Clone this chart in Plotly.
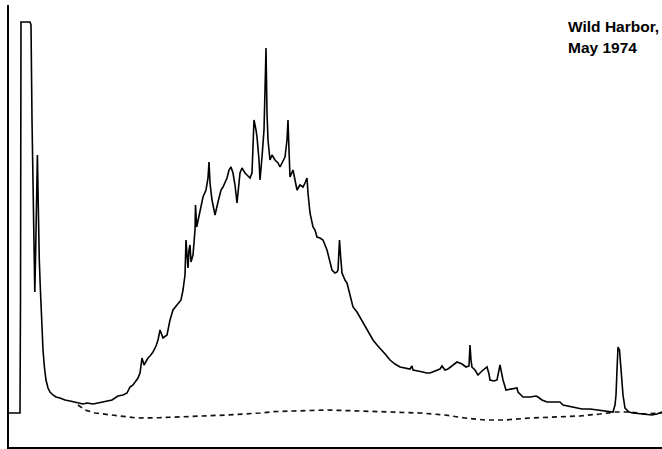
import plotly.graph_objects as go

# Chromatogram trace: retention position and detector response
trace_x = [9, 20, 20.5, 21, 30, 31, 32, 33, 34, 34.8, 35.5, 36.2, 36.8, 37.4, 38, 38.6, 39.3, 40.2, 41, 42, 43,
           44.5, 46, 48, 50, 53, 56, 60, 65, 70, 77, 83, 87, 93, 98, 103, 108, 112, 118, 123, 127, 130, 133,
           135, 138, 140, 142, 144, 145, 148, 150, 153, 156, 158, 160, 162, 163, 167, 170, 173, 177, 179, 181,
           183, 185, 186, 187, 188, 189, 190, 191, 193, 195, 195.5, 196.7, 199, 203, 206, 208, 209, 210, 212,
           215, 218, 221, 223, 225, 227, 229, 231, 233, 235, 237, 240, 242, 245, 248, 250, 252, 254, 256, 257,
           259, 260, 262, 264, 265.5, 266, 267, 268, 270, 272, 275, 278, 280, 283, 285, 287, 288, 289, 290,
           293, 295, 297, 300, 303, 305, 307, 308, 310, 313, 315, 317, 320, 323, 325, 327, 330, 332, 335, 337,
           338, 339.5, 340.5, 342, 345, 347, 350, 353, 357, 360, 363, 367, 370, 373, 377, 382, 386, 390, 395,
           400, 405, 410, 412, 413, 418, 422, 427, 430, 435, 440, 442, 445, 448, 452, 457, 462, 466, 469, 470,
           471, 472, 475, 478, 482, 487, 489, 490, 494, 497, 500, 503, 506, 510, 514, 517, 518, 523, 530, 536,
           538, 542, 547, 555, 560, 563, 568, 573, 578, 582, 590, 600, 608, 613, 615, 616, 617, 618, 619.5,
           621, 622, 623, 625, 629, 633, 640, 647, 652, 657, 660, 662]
trace_py = [413, 413, 300, 22, 22, 25, 120, 200, 270, 292, 260, 228, 190, 155, 190, 232, 260, 285, 305, 330, 350,
            368, 380, 388, 392, 395, 397, 398, 400, 401, 403, 404, 403, 404, 403, 402, 401, 400, 396, 395, 393,
            387, 385, 382, 378, 373, 358, 365, 363, 358, 356, 352, 346, 340, 330, 337, 338, 335, 320, 310, 305,
            303, 300, 290, 275, 240, 262, 268, 250, 245, 262, 255, 230, 205, 227, 215, 197, 190, 178, 162, 183,
            200, 215, 202, 190, 187, 182, 178, 170, 167, 173, 185, 203, 173, 168, 173, 176, 178, 173, 120, 130,
            137, 160, 180, 157, 130, 70, 48, 113, 140, 160, 155, 160, 163, 167, 160, 157, 140, 120, 150, 177,
            170, 180, 190, 185, 187, 183, 178, 193, 213, 227, 230, 237, 238, 240, 245, 250, 262, 270, 273, 272,
            270, 240, 255, 273, 280, 283, 295, 307, 312, 317, 323, 330, 335, 340, 345, 350, 355, 360, 364, 367,
            368, 369, 366, 370, 371, 372, 373, 373, 371, 369, 366, 370, 369, 366, 362, 364, 367, 366, 345, 360,
            367, 370, 375, 371, 367, 374, 380, 381, 380, 365, 380, 390, 389, 388, 388, 392, 397, 397, 396, 397,
            400, 402, 402, 402, 405, 406, 407, 408, 409, 409, 410, 411, 412, 405, 395, 370, 347, 350, 370, 385,
            395, 408, 412, 413, 414, 415, 415, 414, 413, 412]

# Estimated baseline under the hump (dashed)
base_x = [78, 85, 95, 110, 125, 137, 160, 193, 227, 260, 273, 293, 327, 360, 390, 420, 445, 465, 485, 505, 530,
          555, 580, 600, 615, 630, 645, 662]
base_py = [405, 410, 413, 415, 417, 418, 417.7, 416.7, 415, 413, 411.7, 411, 410, 411, 412, 413, 415, 418, 420,
           420, 418, 417, 416, 414, 412, 412, 414, 413]

title_lines = ["Wild Harbor,", "May 1974"]

BOTTOM = 447
PLOT_H = 442
trace_y = [BOTTOM - v for v in trace_py]
base_y = [BOTTOM - v for v in base_py]

fig = go.Figure()
fig.add_trace(go.Scatter(x=base_x, y=base_y, mode="lines",
                         line=dict(color="#111111", width=1.7, dash="5px,4px"),
                         hoverinfo="skip"))
fig.add_trace(go.Scatter(x=trace_x, y=trace_y, mode="lines",
                         line=dict(color="#000000", width=1.6),
                         hoverinfo="skip"))

# Sample label, one annotation per line for tight leading
for i, line in enumerate(title_lines):
    mid_py = 26 + 22 * i
    fig.add_annotation(x=(567 - 9) / 653, y=(BOTTOM - mid_py) / PLOT_H, xref="paper", yref="paper",
                       xanchor="left", yanchor="middle", text=f"<b>{line}</b>", showarrow=False,
                       align="left", borderpad=0,
                       font=dict(family="Liberation Sans, Arial, sans-serif", size=15.5, color="#000000"))

fig.update_layout(
    width=662, height=449,
    margin=dict(l=9, r=0, t=5, b=2),
    paper_bgcolor="white", plot_bgcolor="white",
    showlegend=False,
    xaxis=dict(range=[9, 662], showgrid=False, zeroline=False, showticklabels=False, ticks="",
               showline=True, linecolor="#000000", linewidth=2),
    yaxis=dict(range=[0, PLOT_H], showgrid=False, zeroline=False, showticklabels=False, ticks="",
               showline=True, linecolor="#000000", linewidth=2),
)

fig.write_html("out.html")
